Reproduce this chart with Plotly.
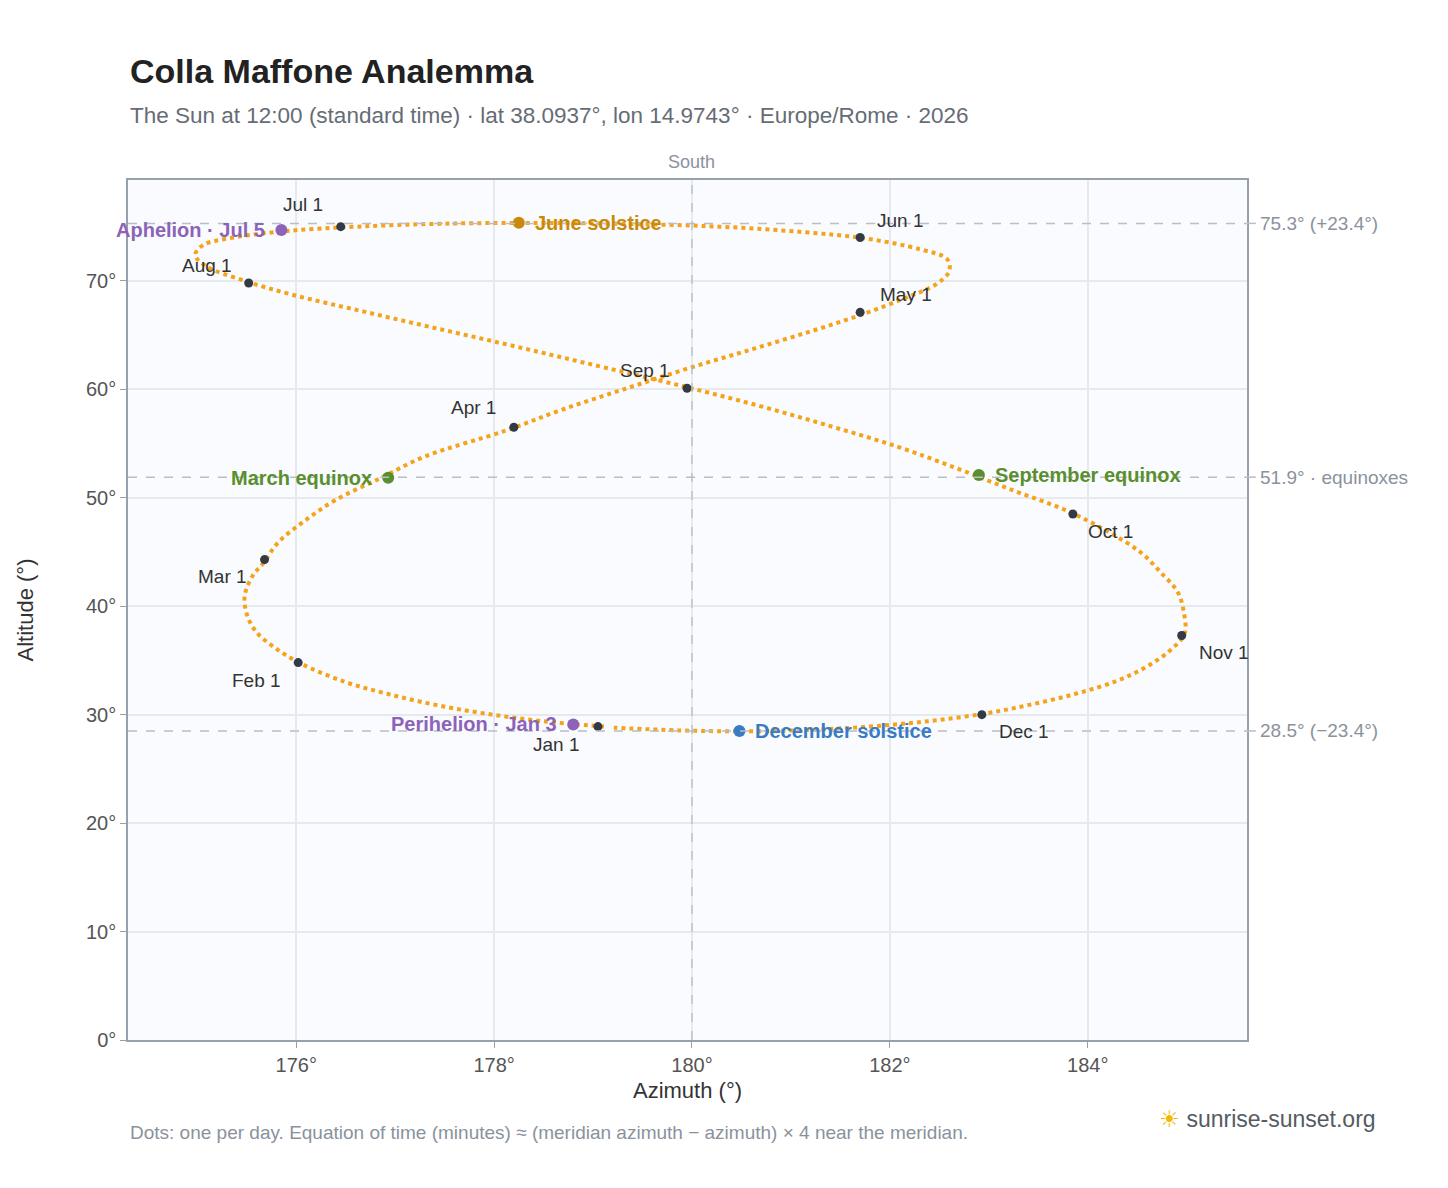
import plotly.graph_objects as go

day_az = [179.11,178.49,177.91,177.41,176.93,176.50, 176.05,175.78,175.59,175.50,175.48,175.56,
          175.67,175.82,176.09,176.40,176.85,177.30, 178.12,178.68,179.31,179.95,180.61,181.22,
          181.72,182.15,182.47,182.60,182.58,182.31, 181.76,181.12,180.27,179.37,178.46,177.48,
          176.62,175.91,175.37,175.06,174.98,175.08, 175.48,175.97,176.62,177.33,178.10,178.89,
          179.90,180.67,181.40,182.08,182.68,183.24, 183.79,184.20,184.53,184.74,184.91,184.97,
          184.98,184.83,184.59,184.29,183.87,183.41, 182.96,182.39,181.79,181.18,180.52,179.87,179.21]
day_dec = [-23.0,-22.5,-21.8,-21.0,-20.0,-18.9, -17.2,-15.7,-14.2,-12.6,-10.9,-9.1,
           -7.9,-6.0,-4.0,-2.1,-0.1,1.9, 4.3,6.2,8.1,10.0,11.8,13.5,
           15.0,16.5,17.8,19.0,20.1,21.0, 22.0,22.6,23.1,23.35,23.44,23.37,
           23.1,22.7,22.1,21.4,20.5,19.5, 18.1,16.8,15.4,13.9,12.3,10.6,
           8.4,6.6,4.7,2.8,0.8,-1.2, -3.1,-5.0,-6.9,-8.8,-10.6,-12.4,
           -14.4,-16.0,-17.5,-18.8,-20.0,-21.0, -21.8,-22.5,-23.0,-23.3,-23.44,-23.35,-23.1]
EQ_ALT = 51.9
day_alt = [EQ_ALT + d for d in day_dec]

month_labels = ["Jan 1","Feb 1","Mar 1","Apr 1","May 1","Jun 1","Jul 1","Aug 1","Sep 1","Oct 1","Nov 1","Dec 1"]
month_az = [179.05,176.02,175.68,178.2,181.7,181.7,176.45,175.52,179.95,183.85,184.95,182.93]
month_alt = [28.9,34.8,44.3,56.5,67.1,74.0,75.0,69.8,60.1,48.5,37.3,30.0]
month_dx = [-42,-42,-42,-40,46,40,-38,-42,-42,38,42,42]
month_dy = [18,18,17,-20,-18,-17,-22,-18,-18,17,17,17]

events = ["June solstice","December solstice","March equinox","September equinox","Aphelion · Jul 5","Perihelion · Jan 3"]
event_az = [178.25,180.48,176.93,182.9,175.85,178.8]
event_alt = [75.35,28.5,51.85,52.1,74.7,29.1]
event_col = ["#c98a0b","#3a7cc4","#5a8f2e","#5a8f2e","#8c63b8","#8c63b8"]
event_side = ["right","right","left","right","left","left"]

ref_alts = [75.3, 51.9, 28.5]
ref_labels = ["75.3° (+23.4°)", "51.9° · equinoxes", "28.5° (−23.4°)"]

x_ticks = [176, 178, 180, 182, 184]
y_ticks = [0, 10, 20, 30, 40, 50, 60, 70]

fig = go.Figure()
fig.add_trace(go.Scatter(x=day_az, y=day_alt, mode="lines",
                         line=dict(color="#f5a31a", width=4, dash="dot", shape="spline", smoothing=1.0),
                         hoverinfo="skip"))
fig.add_trace(go.Scatter(x=month_az, y=month_alt, mode="markers",
                         marker=dict(size=9, color="#343a45")))
fig.add_trace(go.Scatter(x=event_az, y=event_alt, mode="markers",
                         marker=dict(size=12, color=event_col)))

ann = []
for t, x, y, dx, dy in zip(month_labels, month_az, month_alt, month_dx, month_dy):
    ann.append(dict(x=x, y=y, text=t, showarrow=False, xshift=dx, yshift=-dy,
                    font=dict(size=19, color="#333")))
for t, x, y, c, s in zip(events, event_az, event_alt, event_col, event_side):
    ann.append(dict(x=x, y=y, text="<b>%s</b>" % t, showarrow=False,
                    xanchor="left" if s == "right" else "right",
                    xshift=14 if s == "right" else -14,
                    font=dict(size=20, color=c)))
shapes = []
for a, l in zip(ref_alts, ref_labels):
    shapes.append(dict(type="line", xref="paper", x0=0, x1=1.0, y0=a, y1=a,
                       line=dict(color="#b8bfc8", width=1.5, dash="dash")))
    shapes.append(dict(type="line", xref="paper", x0=1.0, x1=1.008, y0=a, y1=a,
                       line=dict(color="#b8bfc8", width=1.5)))
    ann.append(dict(xref="paper", x=1.01, y=a, text=l, showarrow=False, xanchor="left",
                    font=dict(size=19, color="#8a929c")))
shapes.append(dict(type="line", yref="paper", x0=180, x1=180, y0=0, y1=1,
                   line=dict(color="#a9bcc8", width=1.2, dash="dash")))
ann.append(dict(x=180, yref="paper", y=1.0, text="South", showarrow=False, yanchor="bottom",
                yshift=6, font=dict(size=18, color="#8a929c")))
ann.append(dict(xref="paper", yref="paper", x=0, y=1.0, xanchor="left", yanchor="bottom",
                yshift=88, text="<b>Colla Maffone Analemma</b>", showarrow=False,
                font=dict(size=34, color="#222")))
ann.append(dict(xref="paper", yref="paper", x=0, y=1.0, xanchor="left", yanchor="bottom",
                yshift=50, showarrow=False,
                text="The Sun at 12:00 (standard time) · lat 38.0937°, lon 14.9743° · Europe/Rome · 2026",
                font=dict(size=22.5, color="#666c75")))
ann.append(dict(xref="paper", yref="paper", x=0, y=0, xanchor="left", yanchor="top", yshift=-80,
                showarrow=False,
                text="Dots: one per day. Equation of time (minutes) ≈ (meridian azimuth − azimuth) × 4 near the meridian.",
                font=dict(size=19, color="#8a929c")))
ann.append(dict(xref="paper", yref="paper", x=1.117, y=0, xanchor="right", yanchor="top", yshift=-64,
                showarrow=False, text="<span style='color:#f5b800'>☀</span> sunrise-sunset.org",
                font=dict(size=23, color="#555b63")))

fig.update_layout(
    width=1448, height=1188, showlegend=False,
    margin=dict(l=120, r=209, t=172, b=156, autoexpand=False),
    paper_bgcolor="white", plot_bgcolor="#f9fbfe",
    font=dict(family="Liberation Sans, Arial, sans-serif", color="#555"),
    shapes=shapes, annotations=ann,
    xaxis=dict(range=[174.3, 185.61], tickvals=x_ticks, ticktext=["%d°" % v for v in x_ticks],
               showgrid=True, gridcolor="#e6e9ee", gridwidth=1.5, zeroline=False,
               showline=True, linecolor="#97a1ad", linewidth=1.5, mirror=True,
               ticks="outside", ticklen=6, tickcolor="#97a1ad",
               tickfont=dict(size=20, color="#555"),
               title=dict(text="Azimuth (°)", font=dict(size=22, color="#333"), standoff=8)),
    yaxis=dict(range=[0, 79.3], tickvals=y_ticks, ticktext=["%d°" % v for v in y_ticks],
               showgrid=True, gridcolor="#e6e9ee", gridwidth=1.5, zeroline=False,
               showline=True, linecolor="#97a1ad", linewidth=1.5, mirror=True,
               ticks="outside", ticklen=6, tickcolor="#97a1ad",
               tickfont=dict(size=20, color="#555"),
               title=dict(text="Altitude (°)", font=dict(size=22, color="#333"), standoff=46)),
)
fig.write_html("out.html")
